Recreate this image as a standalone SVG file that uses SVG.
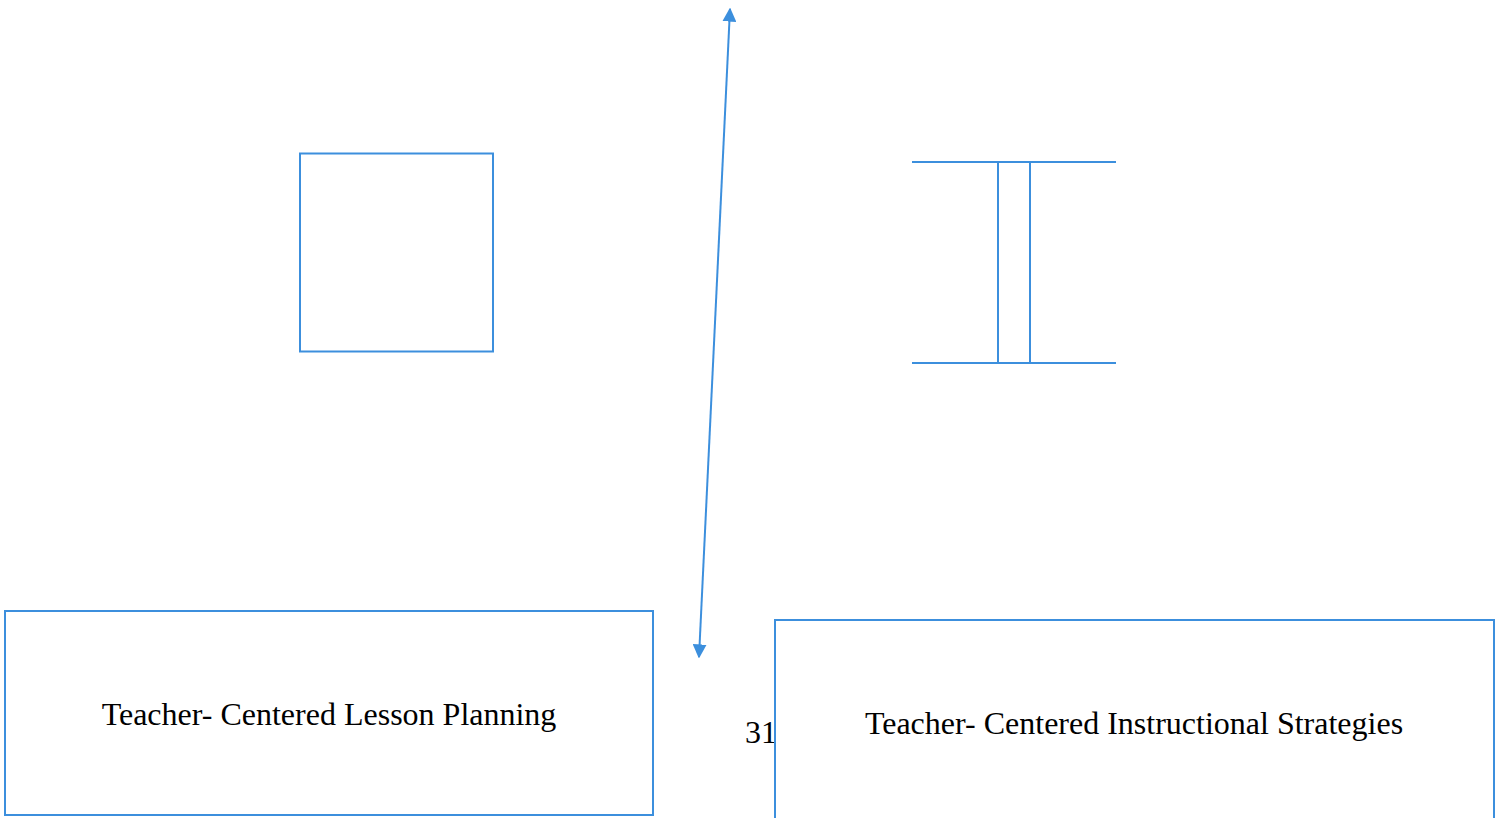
<svg xmlns="http://www.w3.org/2000/svg" width="1502" height="818" viewBox="0 0 1502 818">
<style>
.s{fill:none;stroke:#3c8fdd;stroke-width:2}
.t{font-family:"Liberation Serif",serif;font-size:32px;fill:#000}
</style>
<defs>
<marker id="ah" viewBox="0 0 10 10" refX="9" refY="5" markerWidth="7" markerHeight="7" orient="auto-start-reverse" markerUnits="strokeWidth">
<path d="M0,0 L10,5 L0,10 z" fill="#3c8fdd"/>
</marker>
</defs>
<rect width="1502" height="818" fill="#fff"/>
<g id="connectors">
<line class="s" x1="699" y1="657" x2="730" y2="9" marker-start="url(#ah)" marker-end="url(#ah)"/>
</g>
<g id="square"><rect class="s" x="300" y="153.5" width="193" height="198"/></g>
<g id="ibeam">
<line class="s" x1="912" y1="162" x2="1116" y2="162"/>
<line class="s" x1="912" y1="363" x2="1116" y2="363"/>
<rect class="s" x="998" y="162" width="32" height="201"/>
</g>
<g id="lesson-planning">
<rect class="s" x="5" y="611" width="648" height="204"/>
<text class="t" x="329" y="725" text-anchor="middle">Teacher- Centered Lesson Planning</text>
</g>
<g id="page-number"><text class="t" x="745" y="743">31</text></g>
<g id="instructional-strategies">
<rect fill="#fff" class="s" x="775" y="620" width="719" height="210" style="fill:#fff"/>
<text class="t" x="1134" y="734" text-anchor="middle">Teacher- Centered Instructional Strategies</text>
</g>
</svg>
